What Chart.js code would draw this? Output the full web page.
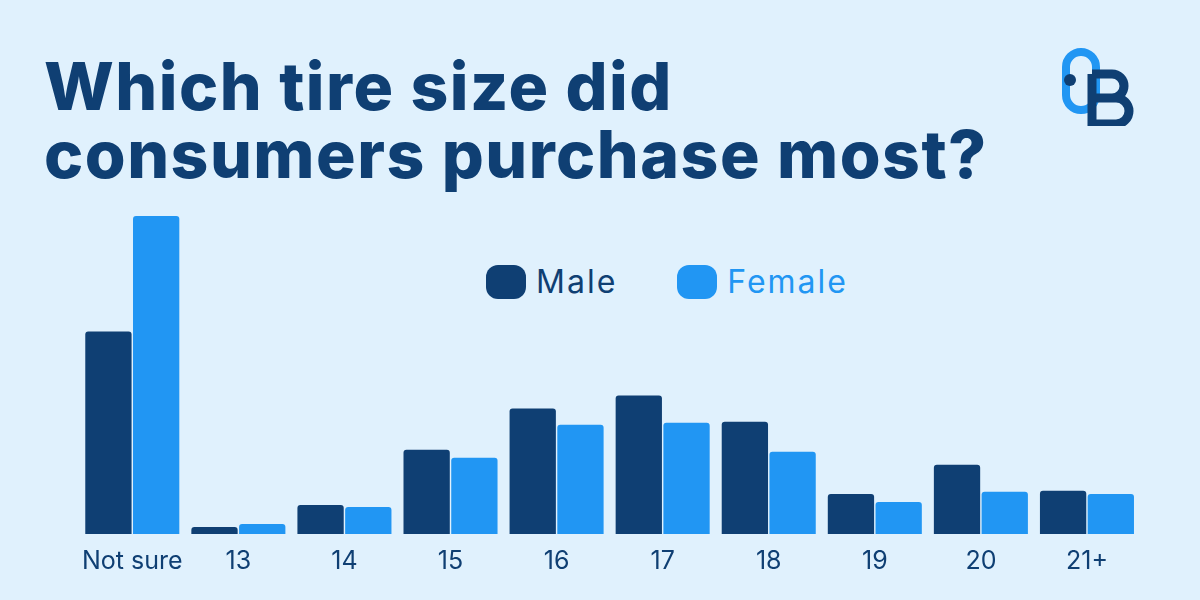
<!DOCTYPE html>
<html><head><meta charset="utf-8">
<script src="https://cdn.jsdelivr.net/npm/chart.js@4"></script>
<style>
body{margin:0;width:1200px;height:600px;background:#e0f1fd;font-family:Inter,sans-serif;position:relative;overflow:hidden}
h1{position:absolute;left:44px;top:52px;margin:0;font-size:66px;line-height:68px;font-weight:800;color:#0f3f73;letter-spacing:1.5px}
#legend{position:absolute;top:262px;left:486px;font-size:32px;display:flex;align-items:center;letter-spacing:2px}
.box{width:40px;height:34px;border-radius:12px;display:inline-block;margin-right:10px}
#wrap{position:absolute;left:78px;top:200px;width:1062px;height:380px}
</style></head><body>
<h1>Which tire size did<br>consumers purchase most?</h1>
<svg style="position:absolute;left:1062px;top:44px" width="74" height="82" viewBox="0 0 74 82">
<rect x="4" y="8" width="30" height="58" rx="15" fill="none" stroke="#2196f3" stroke-width="8"/>
<circle cx="8" cy="36" r="6" fill="#0f3f73"/>
<path d="M30 30 h20 a12 12 0 0 1 0 24 h-20 M30 54 h24 a13 13 0 0 1 0 26 h-24 V30" fill="none" stroke="#0f3f73" stroke-width="9"/>
</svg>
<div id="legend"><span class="box" style="background:#0f3f73"></span><span style="color:#0f3f73">Male</span>
<span class="box" style="background:#2196f3;margin-left:60px"></span><span style="color:#2196f3">Female</span></div>
<div id="wrap"><canvas id="c"></canvas></div>
<script>
const categories=["Not sure","13","14","15","16","17","18","19","20","21+"];
const male=[202,7,29,84,125,138,112,40,69,43];
const female=[317,10,27,76,109,111,82,32,42,40];
new Chart(document.getElementById('c'),{type:'bar',
data:{labels:categories,datasets:[
{label:'Male',data:male,backgroundColor:'#0f3f73',borderRadius:{topLeft:3,topRight:3}},
{label:'Female',data:female,backgroundColor:'#2196f3',borderRadius:{topLeft:3,topRight:3}}]},
options:{responsive:true,maintainAspectRatio:false,animation:false,
layout:{padding:0},
plugins:{legend:{display:false},tooltip:{enabled:false}},
scales:{y:{display:false,min:0,max:333},
x:{grid:{display:false},border:{display:false},
ticks:{color:'#0f3f73',font:{family:'Inter',size:25},padding:4,maxRotation:0,minRotation:0,autoSkip:false}}},
datasets:{bar:{categoryPercentage:0.9,barPercentage:0.97}}}});
</script></body></html>
